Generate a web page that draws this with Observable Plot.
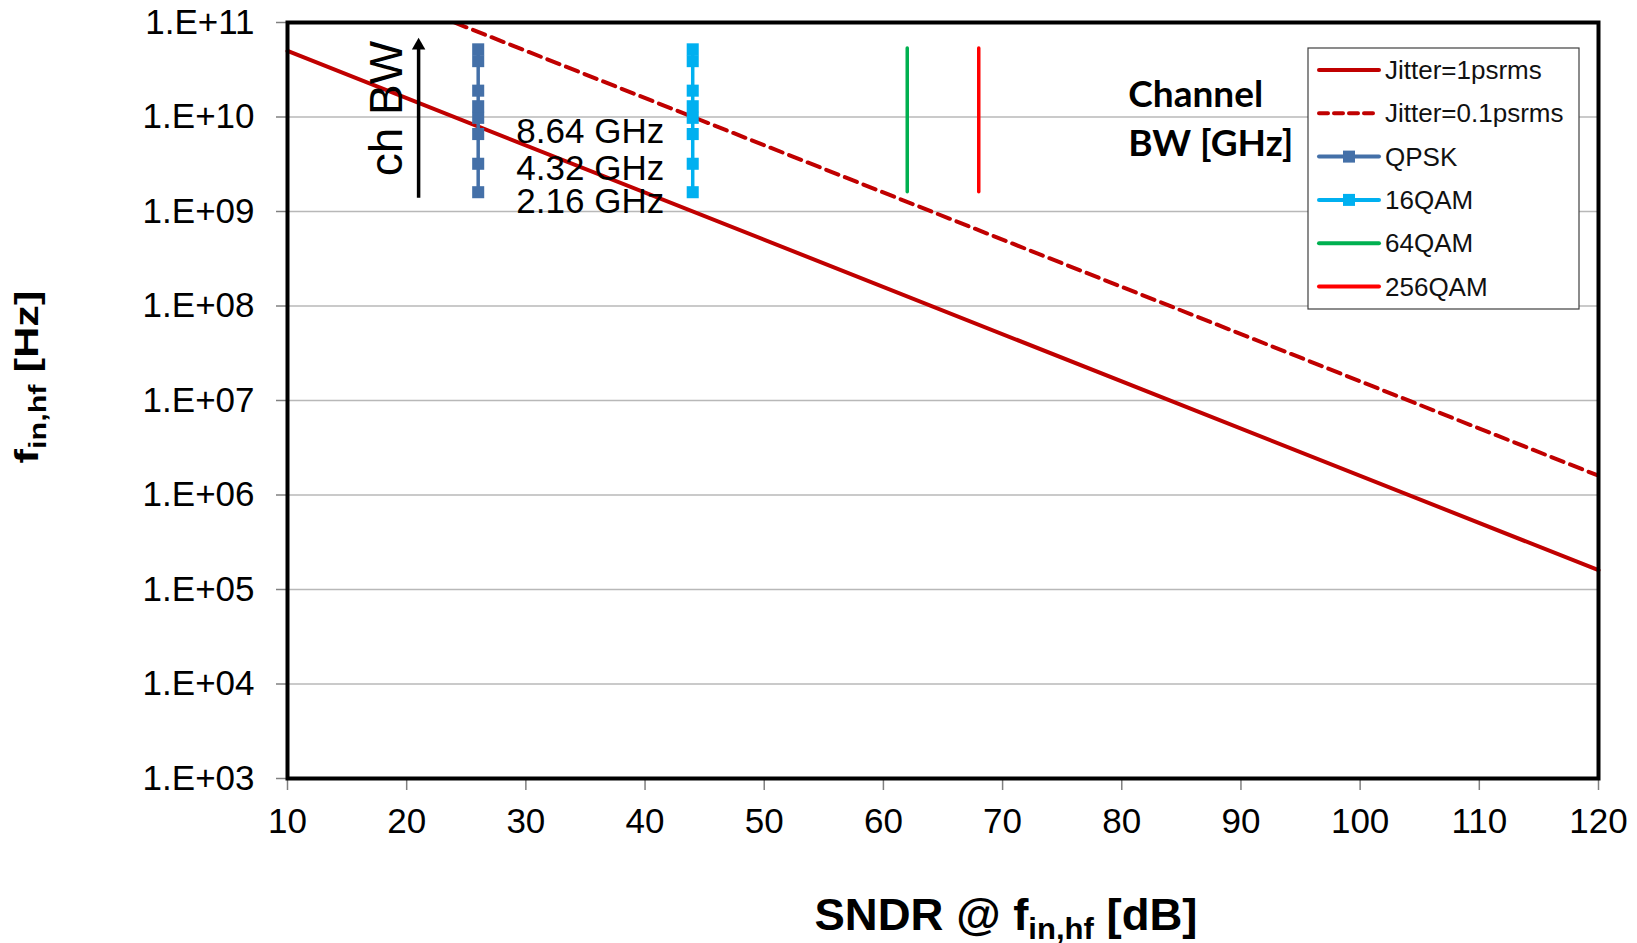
<!DOCTYPE html>
<html>
<head>
<meta charset="utf-8">
<script src="https://cdn.jsdelivr.net/npm/d3@7"></script>
<script src="https://cdn.jsdelivr.net/npm/@observablehq/plot@0.6"></script>
<style>
  html, body { margin: 0; padding: 0; background: #fff; }
  #chart { position: relative; width: 1637px; height: 943px; }
</style>
</head>
<body>
<div id="chart"></div>
<script>
// ---------- data ----------
const xTicks = [10, 20, 30, 40, 50, 60, 70, 80, 90, 100, 110, 120];
const yTicks = [1e3, 1e4, 1e5, 1e6, 1e7, 1e8, 1e9, 1e10, 1e11];

// Jitter-limited lines (SNDR [dB] -> f_in,hf [Hz]) – endpoints
const jitter1psSNDR = [10, 120];
const jitter1psFreq = [5.0e10, 1.6e5];
const jitter01psSNDR = [24, 120];
const jitter01psFreq = [1.0e11, 1.6e6];

// Modulation schemes: required SNDR and channel-bandwidth frequency points
const modulationNames = ["QPSK", "16QAM", "64QAM", "256QAM"];
const modulationSNDR = [26, 44, 62, 68];
const markerFreqs = [1.6e9, 3.2e9, 6.6e9, 9.8e9, 1.3e10, 1.9e10, 3.9e10, 5.2e10];
const rangeFreqs = [1.6e9, 5.3e10];

// Annotations
const bwLabels = ["8.64 GHz", "4.32 GHz", "2.16 GHz"];
const bwLabelFreqs = [6.9e9, 2.8e9, 1.26e9];
const bwLabelSNDR = 29.2;
const chBWText = "ch BW";
const chBWPos = [18.4, 1.23e10];
const arrowSNDR = 21;
const arrowFreqs = [1.4e9, 5.7e10];
const channelTitle = ["Channel", "BW [GHz]"];
const channelTitleSNDR = 80.55;
const channelTitleFreqs = [1.69e10, 5.12e9];

const seriesNames = ["Jitter=1psrms", "Jitter=0.1psrms", "QPSK", "16QAM", "64QAM", "256QAM"];

// ---------- styles ----------
const colors = {
  "Jitter=1psrms": "#c00000",
  "Jitter=0.1psrms": "#c00000",
  "QPSK": "#4470a8",
  "16QAM": "#00b0f0",
  "64QAM": "#00b050",
  "256QAM": "#ff0000"
};
const FONT = "'Liberation Sans', Arial, sans-serif";

// ---------- tables ----------
const j1 = jitter1psSNDR.map((x, i) => ({x, f: jitter1psFreq[i]}));
const j01 = jitter01psSNDR.map((x, i) => ({x, f: jitter01psFreq[i]}));
const markerPts = [];
for (const name of ["QPSK", "16QAM"]) {
  const x = modulationSNDR[modulationNames.indexOf(name)];
  for (const f of markerFreqs) markerPts.push({name, x, f});
}
const rangePts = ["64QAM", "256QAM"].map(name => ({
  name, x: modulationSNDR[modulationNames.indexOf(name)], f1: rangeFreqs[0], f2: rangeFreqs[1]
}));
const bwTable = bwLabels.map((t, i) => ({t, f: bwLabelFreqs[i]}));
const fmtY = d => "1.E+" + String(Math.round(Math.log10(d))).padStart(2, "0");

const plot = Plot.plot({
  width: 1637,
  height: 943,
  marginLeft: 287,
  marginRight: 39,
  marginTop: 22,
  marginBottom: 165,
  style: {fontFamily: FONT, fontSize: "35px", background: "white", color: "black", overflow: "visible"},
  x: {domain: [10, 120], label: null},
  y: {type: "log", domain: [1e3, 1e11], label: null},
  marks: [
    Plot.ruleY(yTicks.slice(1, -1), {stroke: "#b8b8b8", strokeWidth: 1.5}),
    Plot.axisY(yTicks, {tickSize: 11, tickPadding: 22, tickFormat: fmtY, stroke: "#808080", strokeWidth: 1.5, fontSize: 35, label: null}),
    Plot.axisX(xTicks, {tickSize: 12, tickPadding: 18, stroke: "#808080", strokeWidth: 1.5, fontSize: 35, label: null}),
    // jitter lines
    Plot.line(j1, {x: "x", y: "f", stroke: colors["Jitter=1psrms"], strokeWidth: 4}),
    Plot.line(j01, {x: "x", y: "f", stroke: colors["Jitter=0.1psrms"], strokeWidth: 4, strokeDasharray: "13,7", clip: true}),
    // QPSK / 16QAM connected markers
    Plot.line(markerPts, {x: "x", y: "f", z: "name", stroke: d => colors[d.name], strokeWidth: 3.5}),
    Plot.dot(markerPts, {x: "x", y: "f", symbol: "square", r: 6.8, fill: d => colors[d.name], stroke: "none"}),
    // 64QAM / 256QAM ranges
    Plot.ruleX(rangePts, {x: "x", y1: "f1", y2: "f2", stroke: d => colors[d.name], strokeWidth: 3.5, strokeLinecap: "round"}),
    // ch BW arrow
    Plot.link([{x: arrowSNDR, f1: arrowFreqs[0], f2: arrowFreqs[1]}], {x1: "x", x2: "x", y1: "f1", y2: "f2", stroke: "black", strokeWidth: 3.5}),
    Plot.dot([{x: arrowSNDR, f: arrowFreqs[1]}], {x: "x", y: "f", symbol: "triangle", r: 5, fill: "black"}),
    Plot.text([chBWText], {x: () => chBWPos[0], y: () => chBWPos[1], text: d => d, rotate: -90, fontSize: 46, textAnchor: "middle", fill: "black"}),
    // bandwidth labels
    Plot.text(bwTable, {x: () => bwLabelSNDR, y: "f", text: "t", textAnchor: "start", fontSize: 35, fill: "black"}),
    // Channel BW title
    Plot.text(channelTitle.map((t, i) => ({t, f: channelTitleFreqs[i]})), {x: () => channelTitleSNDR, y: "f", text: "t", textAnchor: "start", fontSize: 37, fontWeight: "bold", fontFamily: "Lato, 'Open Sans', sans-serif", fill: "black"}),
    Plot.frame({stroke: "black", strokeWidth: 4})
  ]
});
document.getElementById("chart").appendChild(plot);

// ---------- axis titles with subscripts ----------
const svg = d3.select(plot);
const xt = svg.append("text")
  .attr("x", 1006).attr("y", 930)
  .attr("text-anchor", "middle")
  .attr("font-family", FONT).attr("font-weight", "bold").attr("font-size", 44)
  .attr("textLength", 383).attr("lengthAdjust", "spacingAndGlyphs")
  .attr("fill", "black");
xt.append("tspan").text("SNDR @ f");
xt.append("tspan").attr("font-size", 30).attr("dy", 9).text("in,hf");
xt.append("tspan").attr("dy", -9).text(" [dB]");

const yt = svg.append("text")
  .attr("transform", "translate(38,377) rotate(-90)")
  .attr("text-anchor", "middle")
  .attr("font-family", FONT).attr("font-weight", "bold").attr("font-size", 34)
  .attr("textLength", 173).attr("lengthAdjust", "spacingAndGlyphs")
  .attr("fill", "black");
yt.append("tspan").text("f");
yt.append("tspan").attr("font-size", 24).attr("dy", 8).text("in,hf");
yt.append("tspan").attr("dy", -8).text(" [Hz]");

// ---------- legend ----------
const lg = svg.append("g").attr("font-family", FONT).attr("font-size", 26).attr("text-anchor", "start");
lg.append("rect").attr("x", 1308).attr("y", 48).attr("width", 271).attr("height", 261)
  .attr("fill", "white").attr("stroke", "#404040").attr("stroke-width", 1.2);
seriesNames.forEach((name, i) => {
  const cy = 70 + i * 43.3;
  lg.append("line").attr("x1", 1319).attr("x2", 1379).attr("y1", cy).attr("y2", cy)
    .attr("stroke", colors[name]).attr("stroke-width", 4)
    .attr("stroke-linecap", "round")
    .attr("stroke-dasharray", name === "Jitter=0.1psrms" ? "9,6" : null);
  if (name === "QPSK" || name === "16QAM") {
    lg.append("rect").attr("x", 1343).attr("y", cy - 6).attr("width", 12).attr("height", 12)
      .attr("fill", colors[name]);
  }
  lg.append("text").attr("x", 1385).attr("y", cy).attr("dy", "0.35em")
    .attr("text-anchor", "start")
    .attr("fill", "#111").text(name);
});
</script>
</body>
</html>
